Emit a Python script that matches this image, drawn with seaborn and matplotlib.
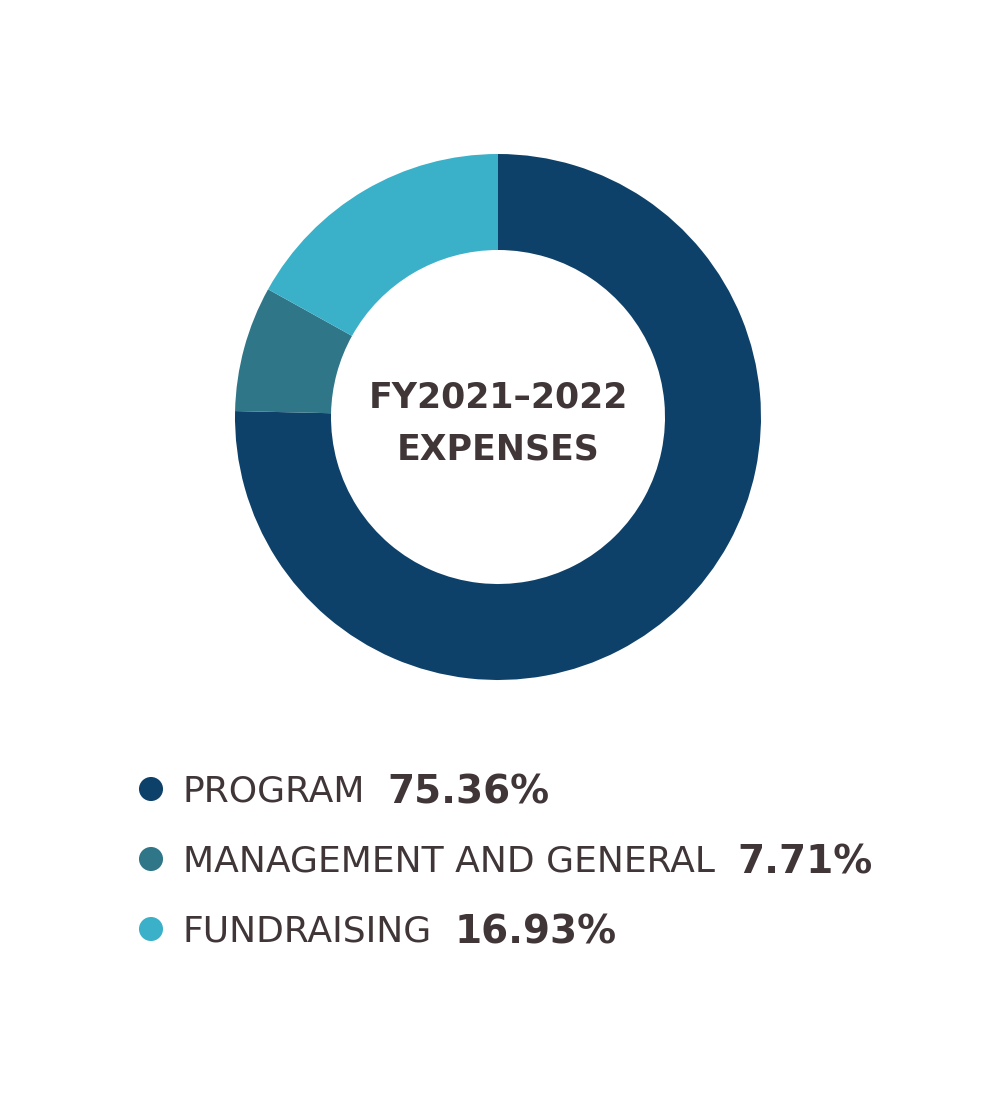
import matplotlib
matplotlib.use("Agg")
import matplotlib.pyplot as plt
import seaborn as sns
import pandas as pd

# data
categories = ["PROGRAM", "MANAGEMENT AND GENERAL", "FUNDRAISING"]
shares = [75.36, 7.71, 16.93]
share_labels = ["75.36%", "7.71%", "16.93%"]
title_lines = ["FY2021\u20132022", "EXPENSES"]

palette = sns.color_palette(["#0E4169", "#2F7688", "#3BB0C9"])
TEXT = "#403638"

sns.set_theme(style="white")
plt.rcParams["font.family"] = ["DejaVu Sans"]

W, H = 1000, 1100
fig = plt.figure(figsize=(W / 100, H / 100), dpi=100, facecolor="white")

# donut, centre (498, 417) px, outer radius 263 px
cx, cy, R = 498, 417, 263
ax = fig.add_axes([(cx - R) / W, (H - cy - R) / H, 2 * R / W, 2 * R / H])
ax.pie(shares, colors=palette, startangle=90, counterclock=False,
       radius=1, wedgeprops=dict(width=0.365, linewidth=0))
ax.set_xlim(-1, 1)
ax.set_ylim(-1, 1)
ax.axis("off")

# overlay in pixel coordinates for texts and legend
ov = fig.add_axes([0, 0, 1, 1])

legend_df = pd.DataFrame({
    "x": [151] * len(categories),
    "y": [789 + 70 * i for i in range(len(categories))],
    "cat": categories,
})
sns.scatterplot(data=legend_df, x="x", y="y", hue="cat", palette=palette,
                s=300, linewidth=0, legend=False, ax=ov)
ov.set_xlim(0, W)
ov.set_ylim(H, 0)
ov.axis("off")

ov.text(cx, 407, title_lines[0], ha="center", va="baseline",
        fontsize=25, fontweight="bold", color=TEXT)
ov.text(cx, 460, title_lines[1], ha="center", va="baseline",
        fontsize=25, fontweight="bold", color=TEXT)

fig.canvas.draw()
renderer = fig.canvas.get_renderer()
for i, (cat, lab) in enumerate(zip(categories, share_labels)):
    y = 789 + 70 * i
    t = ov.text(183, y + 13, cat, ha="left", va="baseline",
                fontsize=26, color=TEXT)
    bb = t.get_window_extent(renderer=renderer)
    ov.text(bb.x1 + 22, y + 15, lab, ha="left", va="baseline",
            fontsize=28, fontweight="bold", color=TEXT)

fig.savefig("out.png", dpi=100, facecolor="white")
